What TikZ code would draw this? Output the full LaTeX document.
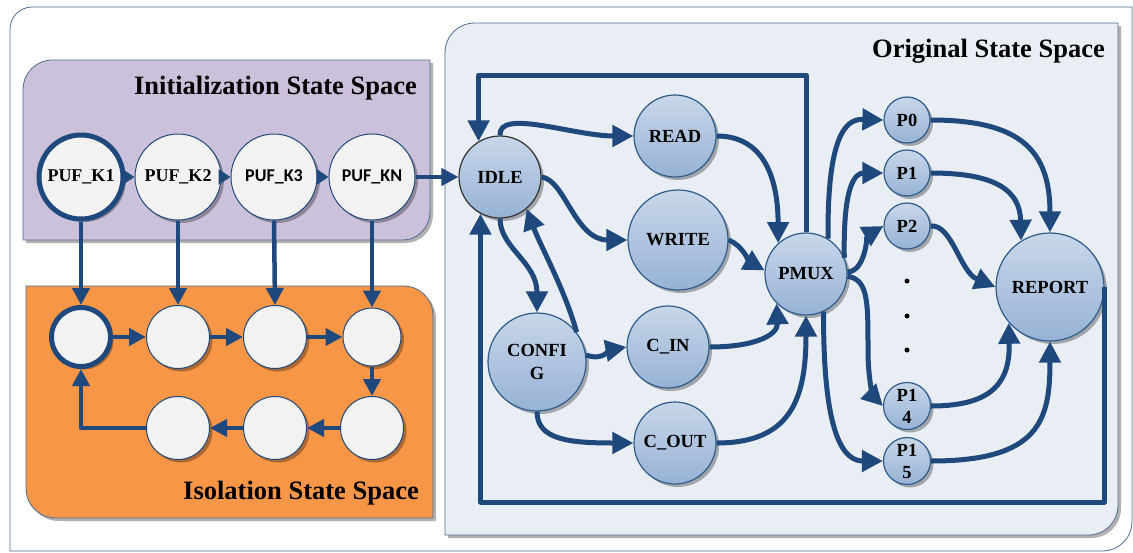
\documentclass[tikz,border=0pt]{standalone}
\usepackage{fontspec}
\setmainfont{Liberation Serif}
\newfontfamily\calfont{Carlito}
\usetikzlibrary{arrows.meta,shadows}
\definecolor{ablue}{HTML}{1F497D}
\definecolor{frameline}{HTML}{4F6D8F}
\definecolor{lav}{HTML}{CCC1DA}
\definecolor{orng}{HTML}{F79646}
\definecolor{origfill}{HTML}{E9EEF5}
\definecolor{pgray}{HTML}{F2F2F2}
\definecolor{sttop}{HTML}{C8D7EA}
\definecolor{stbot}{HTML}{97B2D5}
\definecolor{stline}{HTML}{2E5C8A}
\begin{document}
\begin{tikzpicture}[x=1pt,y=-1pt,
  ar/.style={draw=ablue, line width=5pt, line join=round, -{Triangle[length=21pt,width=21pt]}},
  iar/.style={draw=ablue, line width=4.5pt, line join=round, -{Triangle[length=17pt,width=17pt]}},
  sar/.style={draw=ablue, line width=4.5pt, -{Triangle[length=12pt,width=15pt]}},
  shad/.style={drop shadow={shadow xshift=3pt, shadow yshift=-3pt, fill=black, opacity=0.3}},
  puf/.style={circle, inner sep=0pt, fill=pgray, draw=ablue, line width=1pt, shad, font=\bfseries\fontsize{18}{22}\selectfont},
  st/.style={circle, inner sep=0pt, top color=sttop, bottom color=stbot, draw=stline, line width=1.2pt, shad, font=\bfseries\fontsize{18.5}{23}\selectfont, align=center},
  boxtitle/.style={font=\bfseries\fontsize{26.5}{30}\selectfont, anchor=base east, inner sep=0pt},
  box/.style={draw=frameline, line width=0.8pt}
]
\useasboundingbox (0,0) rectangle (1133,552);
% outer frame
\draw[box, fill=white] (10,551) -- (10,29) .. controls (10,17) and (20,7) .. (32,7) -- (1132,7) -- (1132,521) .. controls (1132,538) and (1119,551) .. (1102,551) -- cycle;
% initialization box
\draw[box, fill=lav, shad] (23,240) -- (23,90) .. controls (23,73) and (36,60) .. (53,60) -- (430,60) -- (430,212) .. controls (430,227) and (418,240) .. (403,240) -- cycle;
\node[boxtitle] (t1) at (417,94) {Initialization State Space};
% isolation box
\draw[box, fill=orng, shad] (26,286) -- (403,286) .. controls (420,286) and (433,299) .. (433,316) -- (433,518) -- (56,518) .. controls (39,518) and (26,505) .. (26,488) -- cycle;
\node[boxtitle] (t2) at (419,499) {Isolation State Space};
% original box
\draw[box, fill=origfill, shad] (445,535) -- (445,53) .. controls (445,36) and (458,23) .. (475,23) -- (1118,23) -- (1118,505) .. controls (1118,522) and (1105,535) .. (1088,535) -- cycle;
\node[boxtitle] (t3) at (1105,57) {Original State Space};

% PUF nodes
\node[puf, minimum size=84pt, line width=5pt] (k1) at (81,177) {PUF\_K1};
\node[puf, minimum size=86pt] (k2) at (178,177) {PUF\_K2};
\node[puf, minimum size=86pt] (k3) at (274,177) {\calfont PUF\_K3};
\node[puf, minimum size=86pt] (kn) at (372,177) {\calfont PUF\_KN};
% isolation nodes
\node[puf, minimum size=59pt, line width=5pt] (i1) at (81,337) {};
\node[puf, minimum size=63pt] (i2) at (178,337) {};
\node[puf, minimum size=63pt] (i3) at (275,337) {};
\node[puf, minimum size=58pt] (i4) at (372,337) {};
\node[puf, minimum size=63pt] (i5) at (372,428) {};
\node[puf, minimum size=63pt] (i6) at (275,428) {};
\node[puf, minimum size=63pt] (i7) at (178,428) {};

% state nodes
\node[st, minimum size=82pt, draw=black!80] (idle) at (500,177) {IDLE};
\node[st, minimum size=82pt] (read) at (675,136) {READ};
\node[st, minimum size=100pt] (write) at (678,240) {WRITE};
\node[st, minimum size=82pt] (pmux) at (806,274) {PMUX};
\node[st, minimum size=98pt] (config) at (537,362) {CONFI\\G};
\node[st, minimum size=82pt] (cin) at (668,347) {C\_IN};
\node[st, minimum size=82pt] (cout) at (675,443) {C\_OUT};
\node[st, minimum size=46pt] (p0) at (907,120) {P0};
\node[st, minimum size=46pt] (p1) at (907,173) {P1};
\node[st, minimum size=46pt] (p2) at (907,226) {P2};
\node[st, minimum size=47pt] (p14) at (907,406) {P1\\[-1pt]4};
\node[st, minimum size=47pt] (p15) at (907,461) {P1\\[-1pt]5};
\node[st, minimum size=108pt] (report) at (1050,287) {REPORT};
\fill[black] (907,281) circle (2.5pt) (907,316) circle (2.5pt) (907,350) circle (2.5pt);

\coordinate (topy) at (0,75);
\coordinate (boty) at (0,502);

% PUF chain
\draw[sar] (k1.east) -- (k2.west);
\draw[sar] (k2.east) -- (k3.west);
\draw[sar] (k3.east) -- (kn.west);
\draw[iar] (kn.east) -- (idle.west);
% down to isolation
\draw[iar] (k1.south) -- (i1.north);
\draw[iar] (k2.south) -- (i2.north);
\draw[iar] (k3.south) -- (i3.north);
\draw[iar] (kn.south) -- (i4.north);
% isolation loop
\draw[iar] (i1.east) -- (i2.west);
\draw[iar] (i2.east) -- (i3.west);
\draw[iar] (i3.east) -- (i4.west);
\draw[iar] (i4.south) -- (i5.north);
\draw[iar] (i5.west) -- (i6.east);
\draw[iar] (i6.west) -- (i7.east);
\draw[iar] (i7.west) -| (i1.south);

% original state space
\draw[ar] (idle.north) .. controls (498,108) and (574,136) .. (read.west);
\draw[ar] (idle.east) .. controls (565,180) and (575,240) .. (write.west);
\draw[ar] (idle.south) .. controls (500,248) and (537,262) .. (config.north);
\draw[ar] (config.37) .. controls (565,290) and (540,245) .. (idle.-50);
\draw[ar] (config.8) .. controls (603,361) and (610,350) .. (cin.west);
\draw[ar] (config.south) .. controls (537,440) and (570,443) .. (cout.west);
\draw[ar] (read.east) .. controls (765,136) and (778,180) .. (pmux.132);
\draw[ar] (write.east) .. controls (742,245) and (750,262) .. (pmux.175);
\draw[ar] (cin.east) .. controls (755,347) and (778,335) .. (pmux.225);
\draw[ar] (cout.east) .. controls (790,443) and (806,400) .. (pmux.south);
\draw[ar] (pmux.north) -- (pmux.north |- topy) -| (idle.121);
\draw[ar] (pmux.58) .. controls (827,125) and (850,119) .. (p0.west);
\draw[ar] (pmux.23) .. controls (843,185) and (855,173) .. (p1.west);
\draw[ar] (pmux.3) .. controls (865,272) and (868,235) .. (p2.west);
\draw[ar] (pmux.-3) .. controls (868,280) and (868,300) .. (868,350) .. controls (868,385) and (875,398) .. (p14.west);
\draw[ar] (pmux.-65) .. controls (823,440) and (845,461) .. (p15.west);
\draw[ar] (p0.east) .. controls (1020,120) and (1050,150) .. (report.north);
\draw[ar] (p1.east) .. controls (995,173) and (1020,190) .. (report.122);
\draw[ar] (p2.east) .. controls (952,224) and (960,272) .. (report.west);
\draw[ar] (p14.east) .. controls (995,406) and (1010,380) .. (report.221);
\draw[ar] (p15.east) .. controls (1040,461) and (1050,420) .. (report.south);
\draw[ar] (report.east) -- (report.east |- boty) -| (idle.242);
\end{tikzpicture}
\end{document}
